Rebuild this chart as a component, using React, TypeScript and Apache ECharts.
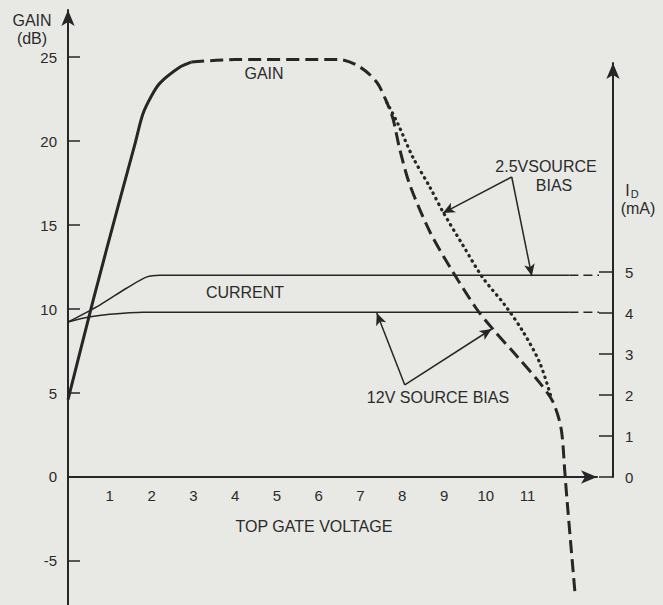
import React, { useEffect, useRef } from "react";
import * as echarts from "echarts";

// Top gate voltage (V) vs gain (dB)
const gainSolid: [number, number][] = [
  [0, 4.6], [0.6, 10.5], [1.24, 16.5], [1.6, 19.8], [1.79, 21.6], [2.0, 22.7],
  [2.2, 23.45], [2.68, 24.4], [2.95, 24.7],
];
const gainDashed12V: [number, number][] = [
  [2.95, 24.7], [4, 24.85], [6.5, 24.85], [6.99, 24.4], [7.39, 23.5], [7.63, 22.3],
  [7.78, 21.3], [7.94, 19.5], [8.18, 17.4], [8.66, 14.6], [9.14, 12.5], [9.78, 10.0],
  [10.17, 8.8], [10.74, 7.2], [11.29, 5.6], [11.6, 4.5], [11.8, 2.9], [11.89, 0.3],
  [11.94, -1.3], [12.13, -6.8],
];
const gainDotted25V: [number, number][] = [
  [7.63, 22.3], [7.9, 21.0], [8.25, 19.05], [8.66, 17.26], [8.97, 15.8], [9.45, 13.8],
  [9.93, 11.85], [10.45, 10.25], [10.89, 8.65], [11.29, 6.8], [11.58, 4.6],
];
// Drain current (mA)
const current25VSolid: [number, number][] = [
  [0, 3.78], [0.77, 4.2], [1.41, 4.61], [1.89, 4.88], [2.2, 4.92], [12.0, 4.92],
];
const current25VDashed: [number, number][] = [[12.0, 4.92], [13.04, 4.92]];
const current12VSolid: [number, number][] = [
  [0, 3.78], [0.5, 3.9], [1.0, 3.97], [1.8, 4.02], [12.0, 4.02],
];
const current12VDashed: [number, number][] = [[12.0, 4.02], [13.04, 4.02]];

const xTicks = [1, 2, 3, 4, 5, 6, 7, 8, 9, 10, 11];
const gainTicks = [-5, 0, 5, 10, 15, 20, 25];
const currentTicks = [0, 1, 2, 3, 4, 5];

// Annotation arrows [from, to] in gain (dB) coordinates
const arrows25V: [[number, number], [number, number]][] = [
  [[10.62, 17.86], [8.97, 15.71]],
  [[10.62, 17.86], [11.1, 11.96]],
];
const arrows12V: [[number, number], [number, number]][] = [
  [[8.06, 5.48], [7.39, 9.76]],
  [[8.06, 5.48], [10.14, 8.81]],
];

const INK = "#262626";
const TEXT = "#2b2b2b";
const FONT = "Liberation Sans";
const X_MAX = 12.66;

export default function App() {
  const ref = useRef<HTMLDivElement>(null);
  useEffect(() => {
    document.body.style.margin = "0";
    document.body.style.background = "#e8e8e5";
    const chart = echarts.init(ref.current!, null, { renderer: "svg" });
    const txt = (text: string, x: number, y: number, size = 16) => ({
      type: "text",
      x,
      y,
      style: {
        text,
        fill: TEXT,
        font: `${size}px "${FONT}"`,
        align: "center",
        verticalAlign: "middle",
      },
    });
    const arrowLines = [...arrows25V, ...arrows12V].map(([a, b]) => [
      { coord: a },
      { coord: b },
    ]);
    const gridBase = { outerBoundsMode: "none", containLabel: false };
    chart.setOption({
      animation: false,
      backgroundColor: "#e8e8e5",
      textStyle: { fontFamily: FONT, color: TEXT },
      grid: [
        { left: 68, top: 10, width: 529, height: 595, ...gridBase },
        { left: 612, top: 63, width: 1, height: 414, ...gridBase },
        { left: 68, top: 10, width: 529, height: 467, ...gridBase },
      ],
      xAxis: [
        {
          gridIndex: 0,
          type: "value",
          min: 0,
          max: X_MAX,
          show: false,
        },
        { gridIndex: 1, type: "value", min: 0, max: 1, show: false },
        {
          gridIndex: 2,
          type: "value",
          position: "bottom",
          min: 0,
          max: X_MAX,
          axisLine: {
            show: true,
            onZero: false,
            symbol: ["none", "arrow"],
            symbolSize: [10, 16],
            lineStyle: { color: INK, width: 2 },
          },
          axisTick: { show: false },
          splitLine: { show: false },
          axisLabel: {
            customValues: xTicks,
            color: TEXT,
            fontSize: 15,
            margin: 11,
            fontFamily: FONT,
          },
        },
      ],
      yAxis: [
        {
          gridIndex: 0,
          type: "value",
          min: -7.62,
          max: 27.8,
          axisLine: {
            show: true,
            onZero: false,
            symbol: ["none", "arrow"],
            symbolSize: [10, 16],
            lineStyle: { color: INK, width: 2 },
          },
          axisTick: {
            show: true,
            inside: true,
            length: 12,
            customValues: gainTicks,
            lineStyle: { color: INK, width: 1.5 },
          },
          splitLine: { show: false },
          axisLabel: {
            customValues: gainTicks,
            color: TEXT,
            fontSize: 15,
            margin: 11,
            fontFamily: FONT,
          },
        },
        {
          gridIndex: 0,
          type: "value",
          min: -3.122,
          max: 11.39,
          show: false,
        },
        {
          gridIndex: 1,
          type: "value",
          position: "right",
          min: 0,
          max: 10.1,
          axisLine: {
            show: true,
            onZero: false,
            symbol: ["none", "arrow"],
            symbolSize: [10, 16],
            lineStyle: { color: INK, width: 2 },
          },
          axisTick: {
            show: true,
            inside: true,
            length: 14,
            customValues: currentTicks,
            lineStyle: { color: INK, width: 1.5 },
          },
          splitLine: { show: false },
          axisLabel: {
            customValues: currentTicks,
            color: TEXT,
            fontSize: 15,
            margin: 12,
            fontFamily: FONT,
          },
        },
        { gridIndex: 2, type: "value", min: 0, max: 1, show: false },
      ],
      series: [
        {
          type: "line",
          name: "Gain",
          data: gainSolid,
          showSymbol: false,
          smooth: 0.3,
          lineStyle: { color: INK, width: 3 },
          markLine: {
            silent: true,
            symbol: ["none", "arrow"],
            symbolSize: [8, 12],
            label: { show: false },
            lineStyle: { color: INK, width: 1.5, type: "solid" },
            data: arrowLines,
          },
        },
        {
          type: "line",
          name: "Gain 12V source bias",
          data: gainDashed12V,
          showSymbol: false,
          smooth: 0.3,
          clip: false,
          lineStyle: { color: INK, width: 3, type: [13, 6] },
        },
        {
          type: "line",
          name: "Gain 2.5V source bias",
          data: gainDotted25V,
          showSymbol: false,
          smooth: 0.3,
          lineStyle: { color: INK, width: 3.2, type: [0.5, 5.5], cap: "round" },
        },
        {
          type: "line",
          name: "Current 2.5V",
          yAxisIndex: 1,
          data: current25VSolid,
          showSymbol: false,
          smooth: 0.3,
          clip: false,
          lineStyle: { color: INK, width: 1.5 },
        },
        {
          type: "line",
          name: "Current 2.5V ext",
          yAxisIndex: 1,
          data: current25VDashed,
          showSymbol: false,
          clip: false,
          lineStyle: { color: INK, width: 1.5, type: [9, 5] },
        },
        {
          type: "line",
          name: "Current 12V",
          yAxisIndex: 1,
          data: current12VSolid,
          showSymbol: false,
          smooth: 0.3,
          clip: false,
          lineStyle: { color: INK, width: 1.5 },
        },
        {
          type: "line",
          name: "Current 12V ext",
          yAxisIndex: 1,
          data: current12VDashed,
          showSymbol: false,
          clip: false,
          lineStyle: { color: INK, width: 1.5, type: [9, 5] },
        },
      ],
      graphic: [
        txt("GAIN", 32, 20),
        txt("(dB)", 32, 38),
        txt("GAIN", 264, 73),
        txt("CURRENT", 245, 292),
        txt("2.5VSOURCE", 546, 166),
        txt("BIAS", 554, 185),
        txt("12V SOURCE BIAS", 438, 397),
        txt("TOP GATE VOLTAGE", 314, 526),
        {
          type: "text",
          x: 632,
          y: 190,
          style: {
            text: "{i|I}{d|D}",
            align: "center",
            verticalAlign: "middle",
            rich: {
              i: { fontSize: 16, fontFamily: FONT, fill: TEXT, color: TEXT },
              d: {
                fontSize: 11,
                fontFamily: FONT,
                fill: TEXT,
                color: TEXT,
                verticalAlign: "bottom",
                padding: [8, 0, 0, 1],
              },
            },
          },
        },
        txt("(mA)", 638, 208),
      ],
    });
    return () => chart.dispose();
  }, []);
  return <div ref={ref} style={{ width: 663, height: 605 }} />;
}
